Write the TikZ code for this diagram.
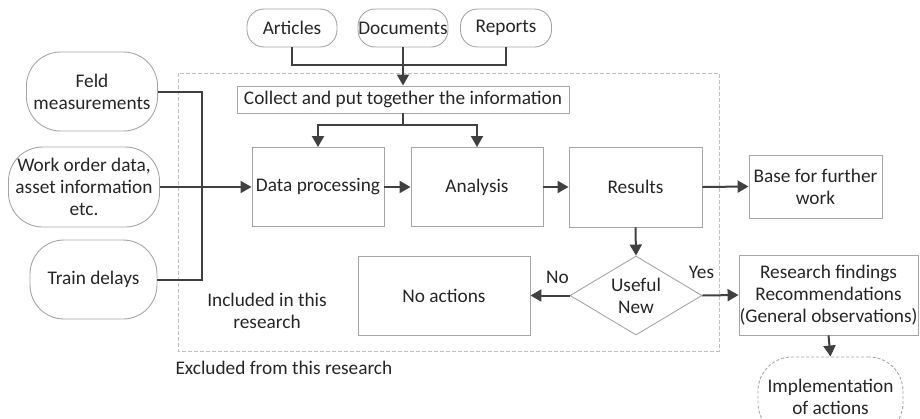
\documentclass[tikz,border=0pt]{standalone}
\usepackage{fontspec}
\setmainfont{Carlito}
\usepackage{tikz}
\usetikzlibrary{calc, math}
\usetikzlibrary{shapes.geometric}
\usetikzlibrary{arrows.meta}
\definecolor{flowcolor}{HTML}{404040}
\definecolor{boxcolor}{HTML}{A6A6A6}
\definecolor{framecolor}{HTML}{C0C0C0}
\definecolor{textcolor}{HTML}{262626}

\begin{document}
\begin{tikzpicture}[x=1pt, y=-1pt,
    font=\fontsize{19.3}{22}\selectfont, text=textcolor,
    box/.style={draw=boxcolor, line width=0.9pt, rectangle, align=center, inner sep=0pt},
    pill/.style={draw=boxcolor, line width=0.9pt, rectangle, rounded corners=#1, align=center, inner sep=0pt},
    pill/.default=34pt,
    decision/.style={draw=boxcolor, line width=0.9pt, diamond, aspect=1.67, align=center, inner sep=0pt},
    joinline/.style={draw=flowcolor, line width=2pt},
    flow/.style={joinline, -{Triangle[length=11pt, width=12pt]}}]
  \tikzmath{
    \xmin=178;
    \xmax=719;
    \ymin=73;
    \ymax=351;
  }
  \useasboundingbox (0,0) rectangle (920,418);

  % Included / excluded part
  \draw[dashed, dash pattern=on 4pt off 2pt, line width=0.9pt, color=framecolor] (\xmin, \ymin) rectangle (\xmax, \ymax);
  \node (included) at (267, 311) [align=center] {Included in this\\research};
  \node (excluded) at (172, 368) [anchor=west] {Excluded from this research};

  % Sources
  \node (articles) at (292, 28) [pill=17pt, minimum width=90, minimum height=38] {Articles};
  \node (documents) at (403, 28) [pill=17pt, minimum width=90, minimum height=38] {Documents};
  \node (reports) at (506, 28) [pill=17pt, minimum width=91, minimum height=38] {Reports};
  \node (collect) at (403, 99.5) [box, minimum width=332, minimum height=27] {Collect and put together the information};

  \node (feld) at (92, 91.5) [pill, minimum width=131, minimum height=79] {Feld\\measurements};
  \node (workorder) at (84, 187) [pill, minimum width=151, minimum height=80] {Work order data,\\asset information\\etc.};
  \node (delays) at (93.5, 279.5) [pill, minimum width=127, minimum height=79] {Train delays};

  % Process
  \node (dataproc) at (318, 187) [box, minimum width=132, minimum height=79] {Data processing};
  \node (analysis) at (477, 187) [box, minimum width=132, minimum height=79] {Analysis};
  \node (results) at (635.5, 187) [box, minimum width=133, minimum height=80] {Results};
  \node (further) at (815.5, 186.5) [box, minimum width=133, minimum height=63] {Base for further\\work};

  \node (useful) at (636, 295.5) [decision, minimum width=132, minimum height=79] {Useful\\New};
  \node (noactions) at (444, 295.5) [box, minimum width=172, minimum height=79] {No actions};
  \node (findings) at (828.5, 295) [box, minimum width=179, minimum height=80] {Research findings\\Recommendations\\(General observations)};
  \node (implement) at (830.5, 397) [pill, dashed, dash pattern=on 3pt off 2pt, minimum width=145, minimum height=80] {Implementation\\of actions};

  \node (nolabel) at (557.5, 277) {No};
  \node (yeslabel) at (701.5, 272) {Yes};

  % Connectors
  \coordinate (srcjoin) at (403, 65);
  \coordinate (split) at (403, 125);
  \coordinate (merge) at (202, 187);

  \draw[joinline] (articles.south) |- (srcjoin) -| (reports.south);
  \draw[flow] (documents.south) -- (collect.north);
  \draw[joinline] (collect.south) -- (split);
  \draw[flow] (split) -| (dataproc.north);
  \draw[flow] (split) -| (analysis.north);

  \draw[joinline] (feld.east) -| (merge);
  \draw[joinline] (delays.east) -| (merge);
  \draw[flow] (workorder.east) -- (dataproc.west);

  \draw[flow] (dataproc.east) -- (analysis.west);
  \draw[flow] (analysis.east) -- (results.west);
  \draw[flow] (results.east) -- (further.west);
  \draw[flow] (results.south) -- (useful.north);
  \draw[flow] (useful.west) -- (noactions.east);
  \draw[flow] (useful.east) -- (findings.west);
  \draw[flow] (findings.south) -- (implement.north);
\end{tikzpicture}
\end{document}
